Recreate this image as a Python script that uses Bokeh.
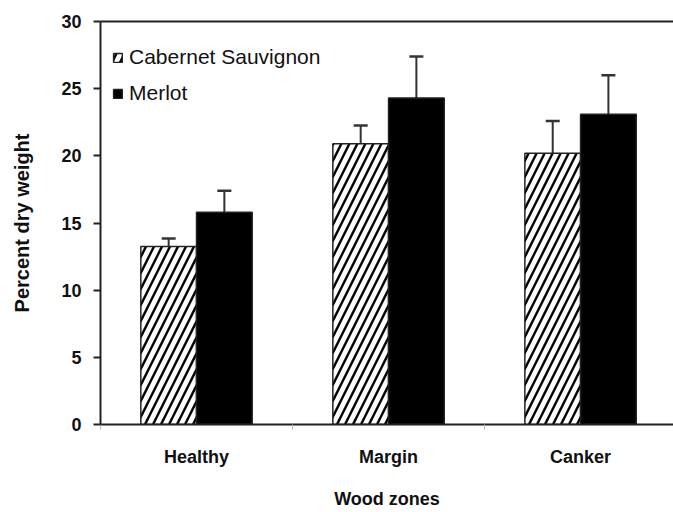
from bokeh.plotting import figure
from bokeh.models import (Range1d, FixedTicker, LinearAxis, Whisker, TeeHead,
                          ColumnDataSource, Legend, LegendItem)
from bokeh.embed import file_html
from bokeh.resources import INLINE

# ---- data ----
categories = ["Healthy", "Margin", "Canker"]
series = ["Cabernet Sauvignon", "Merlot"]
cab_mean = [13.25, 20.9, 20.2]
cab_se = [0.6, 1.35, 2.4]
merlot_mean = [15.8, 24.3, 23.1]
merlot_se = [1.6, 3.1, 2.9]
y_ticks = [0, 5, 10, 15, 20, 25, 30]

FONT = "Liberation Sans"
DARK = "#222222"

# positions (layout only)
offset = 0.145
bar_w = 0.29
centers = [i + 0.5 for i in range(len(categories))]
cab_x = [c - offset for c in centers]
mer_x = [c + offset for c in centers]

p = figure(frame_width=573, frame_height=403, min_border_left=100, min_border_right=0,
           min_border_top=21, min_border_bottom=80,
           x_range=Range1d(0, 2.984), y_range=Range1d(0, 30),
           output_backend="svg", toolbar_location=None, x_axis_type=None, y_axis_type=None)
p.outline_line_color = None
p.xgrid.visible = False
p.ygrid.visible = False
p.background_fill_color = "white"
p.border_fill_color = "white"

src_cab = ColumnDataSource(dict(x=cab_x, top=cab_mean,
                                lo=[m - s for m, s in zip(cab_mean, cab_se)],
                                hi=[m + s for m, s in zip(cab_mean, cab_se)]))
src_mer = ColumnDataSource(dict(x=mer_x, top=merlot_mean,
                                lo=[m - s for m, s in zip(merlot_mean, merlot_se)],
                                hi=[m + s for m, s in zip(merlot_mean, merlot_se)]))

r_cab = p.vbar(x="x", top="top", width=bar_w, source=src_cab, fill_color="white",
               hatch_pattern="/", hatch_color="black", hatch_scale=16, hatch_weight=2.4,
               line_color=DARK, line_width=1.5)
r_mer = p.vbar(x="x", top="top", width=bar_w, source=src_mer, fill_color="black",
               line_color=DARK, line_width=1.5)

for src in (src_cab, src_mer):
    w = Whisker(base="x", lower="lo", upper="hi", source=src,
                line_color="#333333", line_width=2,
                upper_head=TeeHead(size=14, line_color="#333333", line_width=2.5),
                lower_head=TeeHead(size=8, line_color="#333333", line_width=1.5))
    p.add_layout(w)

# y axis
yax = LinearAxis(ticker=FixedTicker(ticks=y_ticks, minor_ticks=[]))
yax.axis_label = "Percent dry weight"
yax.axis_label_text_font = FONT
yax.axis_label_text_font_style = "bold"
yax.axis_label_text_font_size = "20px"
yax.axis_label_text_color = "#111111"
yax.axis_label_standoff = 25
yax.major_label_text_font = FONT
yax.major_label_text_font_style = "bold"
yax.major_label_text_font_size = "18px"
yax.major_label_text_color = "#111111"
yax.major_label_standoff = 12
yax.major_tick_out = 7
yax.major_tick_in = 0
yax.major_tick_line_width = 2
yax.major_tick_line_color = DARK
yax.axis_line_width = 2
yax.axis_line_color = DARK
p.add_layout(yax, "left")

# x axis
xax = LinearAxis(ticker=FixedTicker(ticks=centers, minor_ticks=[0, 1, 2]))
xax.major_label_overrides = {c: name for c, name in zip(centers, categories)}
xax.axis_label = "Wood zones"
xax.axis_label_text_font = FONT
xax.axis_label_text_font_style = "bold"
xax.axis_label_text_font_size = "18px"
xax.axis_label_text_color = "#111111"
xax.axis_label_standoff = 19
xax.major_label_text_font = FONT
xax.major_label_text_font_style = "bold"
xax.major_label_text_font_size = "18px"
xax.major_label_text_color = "#111111"
xax.major_label_standoff = 17
xax.major_tick_out = 0
xax.major_tick_in = 0
xax.major_tick_line_color = None
xax.minor_tick_out = 5
xax.minor_tick_in = 0
xax.minor_tick_line_color = "#bbbbbb"
xax.axis_line_width = 2
xax.axis_line_color = DARK
p.add_layout(xax, "below")

# top border line
top = LinearAxis(ticker=FixedTicker(ticks=[], minor_ticks=[]))
top.axis_line_width = 2
top.axis_line_color = DARK
top.major_tick_line_color = None
top.minor_tick_line_color = None
top.major_label_text_alpha = 0
p.add_layout(top, "above")

legend = Legend(items=[LegendItem(label=series[0], renderers=[r_cab]),
                       LegendItem(label=series[1], renderers=[r_mer])],
                location=(12, 319))
legend.label_text_font = FONT
legend.label_text_font_size = "21px"
legend.label_text_color = "#111111"
legend.glyph_width = 11
legend.glyph_height = 11
legend.label_standoff = 6
legend.spacing = 12
legend.padding = 0
legend.margin = 0
legend.border_line_color = None
legend.background_fill_alpha = 0
p.add_layout(legend, "center")

open("out.html", "w").write(file_html(p, INLINE))
